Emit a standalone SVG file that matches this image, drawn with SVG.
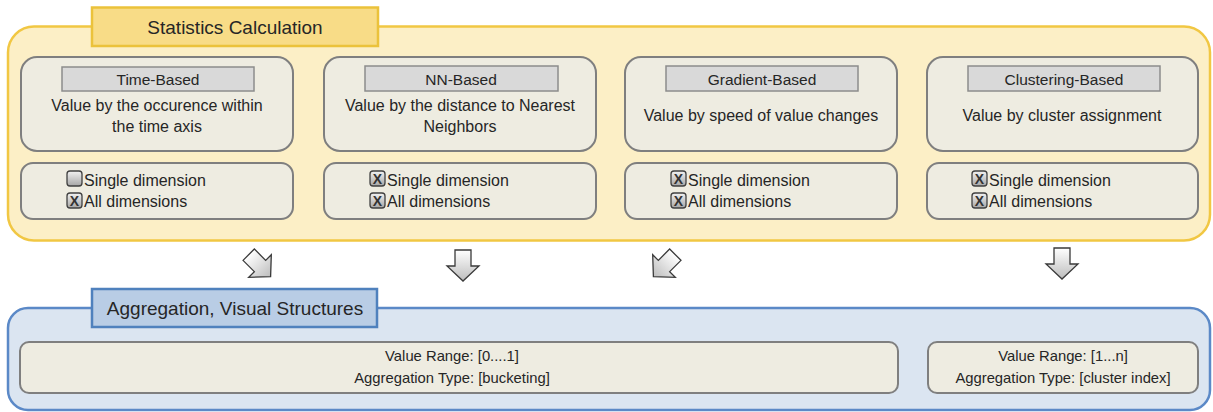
<svg xmlns="http://www.w3.org/2000/svg" width="1213" height="412" viewBox="0 0 1213 412">
<style>
text{font-family:"Liberation Sans",Arial,sans-serif;fill:#262626;text-anchor:middle}
.title{font-size:19px}
.lbl{font-size:15.5px}
.desc{font-size:16px}
.chk{font-size:16px;text-anchor:start}
.agg{font-size:14.8px}
.card{fill:#eeece1;stroke:#7f7f7f;stroke-width:2}
.tag{fill:#d9d9d9;stroke:#8c8c8c;stroke-width:1.5}
.box{fill:url(#gChk);stroke:#404040;stroke-width:1.3}
.x{font-size:14px;font-weight:bold;fill:#333}
.arrow{fill:url(#gArr);stroke:#3a3a3a;stroke-width:1.3;stroke-linejoin:miter}
</style>
<defs>
<linearGradient id="gArr" x1="0" y1="0" x2="0" y2="1">
<stop offset="0" stop-color="#ffffff"/>
<stop offset="1" stop-color="#bdbdbd"/>
</linearGradient>
<linearGradient id="gChk" x1="0" y1="0" x2="0" y2="1">
<stop offset="0" stop-color="#f2f2f2"/>
<stop offset="1" stop-color="#a6a6a6"/>
</linearGradient>
<polygon id="downArrow" points="-8,-16 8,-16 8,0 16,0 0,15 -16,0 -8,0"/>
</defs>

<g id="statistics-calculation">
<rect x="8" y="26.5" width="1202" height="214" rx="26" fill="#fcefc6" stroke="#f1c743" stroke-width="2.5"/>
<rect x="92" y="7.5" width="286" height="38.5" fill="#f8dc87" stroke="#ebc23b" stroke-width="2.5"/>
<text class="title" x="235" y="34">Statistics Calculation</text>
</g>

<g id="time-based">
<rect class="card" x="21" y="57" width="272" height="94" rx="16"/>
<rect class="tag" x="62" y="67" width="192" height="24"/>
<text class="lbl" x="158" y="84.5">Time-Based</text>
<text class="desc" x="157" y="111">Value by the occurence within</text>
<text class="desc" x="157" y="132">the time axis</text>
<rect class="card" x="21" y="163" width="272" height="56" rx="12"/>
<rect class="box" x="67" y="171" width="15" height="15" rx="3"/>
<rect class="box" x="67" y="193" width="15" height="15" rx="3"/>
<text class="x" x="74.5" y="205.5">X</text>
<text class="chk" x="84" y="185.5">Single dimension</text>
<text class="chk" x="84" y="207">All dimensions</text>
</g>

<g id="nn-based">
<rect class="card" x="324" y="57" width="272" height="94" rx="16"/>
<rect class="tag" x="365" y="66" width="193" height="25"/>
<text class="lbl" x="461" y="84.5">NN-Based</text>
<text class="desc" x="460" y="111">Value by the distance to Nearest</text>
<text class="desc" x="460" y="132">Neighbors</text>
<rect class="card" x="324" y="163" width="272" height="56" rx="12"/>
<rect class="box" x="370" y="171" width="15" height="15" rx="3"/>
<rect class="box" x="370" y="193" width="15" height="15" rx="3"/>
<text class="x" x="377.5" y="183.8">X</text>
<text class="x" x="377.5" y="205.8">X</text>
<text class="chk" x="387" y="185.5">Single dimension</text>
<text class="chk" x="387" y="207">All dimensions</text>
</g>

<g id="gradient-based">
<rect class="card" x="625" y="57" width="272" height="94" rx="16"/>
<rect class="tag" x="666" y="66" width="192" height="25"/>
<text class="lbl" x="762" y="84.5">Gradient-Based</text>
<text class="desc" x="761" y="121">Value by speed of value changes</text>
<rect class="card" x="625" y="163" width="272" height="56" rx="12"/>
<rect class="box" x="671" y="171" width="15" height="15" rx="3"/>
<rect class="box" x="671" y="193" width="15" height="15" rx="3"/>
<text class="x" x="678.5" y="183.8">X</text>
<text class="x" x="678.5" y="205.8">X</text>
<text class="chk" x="688" y="185.5">Single dimension</text>
<text class="chk" x="688" y="207">All dimensions</text>
</g>

<g id="clustering-based">
<rect class="card" x="927" y="57" width="271" height="94" rx="16"/>
<rect class="tag" x="968" y="66" width="192" height="25"/>
<text class="lbl" x="1064" y="84.5">Clustering-Based</text>
<text class="desc" x="1062" y="121">Value by cluster assignment</text>
<rect class="card" x="927" y="163" width="271" height="56" rx="12"/>
<rect class="box" x="972" y="171" width="15" height="15" rx="3"/>
<rect class="box" x="972" y="193" width="15" height="15" rx="3"/>
<text class="x" x="979.5" y="183.8">X</text>
<text class="x" x="979.5" y="205.8">X</text>
<text class="chk" x="989" y="185.5">Single dimension</text>
<text class="chk" x="989" y="207">All dimensions</text>
</g>

<g id="connectors">
<use href="#downArrow" class="arrow" transform="translate(260,266) rotate(-45)"/>
<use href="#downArrow" class="arrow" transform="translate(463,266)"/>
<use href="#downArrow" class="arrow" transform="translate(664,266) rotate(45)"/>
<use href="#downArrow" class="arrow" transform="translate(1062,264)"/>
</g>

<g id="aggregation-visual-structures">
<rect x="8" y="308" width="1202" height="102" rx="20" fill="#dbe5f1" stroke="#5b89c7" stroke-width="2.5"/>
<rect x="92" y="289" width="285" height="38" fill="#b9cde5" stroke="#4f81bd" stroke-width="2.5"/>
<text class="title" x="235" y="315">Aggregation, Visual Structures</text>
</g>

<g id="range-bucketing">
<rect class="card" x="20" y="342" width="878" height="51" rx="9" stroke-width="1.5"/>
<text class="agg" x="452" y="361">Value Range: [0....1]</text>
<text class="agg" x="452" y="383">Aggregation Type: [bucketing]</text>
</g>

<g id="range-cluster-index">
<rect class="card" x="928" y="342" width="270" height="51" rx="9" stroke-width="1.5"/>
<text class="agg" x="1063" y="361">Value Range: [1...n]</text>
<text class="agg" x="1063" y="383">Aggregation Type: [cluster index]</text>
</g>
</svg>
